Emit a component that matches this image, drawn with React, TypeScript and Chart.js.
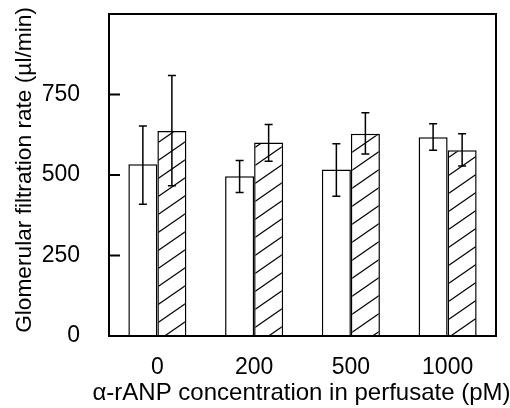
import React, { useEffect, useRef } from "react";
import { Chart, registerables } from "chart.js";

Chart.register(...registerables);

const categories = ["0", "200", "500", "1000"];
const controlValues = [533, 496, 517, 617];
const controlErrHigh = [652, 545, 597, 659];
const controlErrLow = [409, 446, 434, 577];
const treatedValues = [637, 601, 628, 577];
const treatedErrHigh = [809, 657, 693, 628];
const treatedErrLow = [467, 543, 565, 528];
const yTicks = [0, 250, 500, 750, 1000];
const yLabel = "Glomerular filtration rate (µl/min)";
const xLabel = "α-rANP concentration in perfusate (pM)";

const FONT = "'Liberation Sans', Arial, Helvetica, sans-serif";

function makeHatch(): CanvasPattern | string {
  const w = 26;
  const h = 18;
  const c = document.createElement("canvas");
  c.width = w;
  c.height = h;
  const g = c.getContext("2d");
  if (!g) return "#fff";
  g.fillStyle = "#fff";
  g.fillRect(0, 0, w, h);
  g.strokeStyle = "#000";
  g.lineWidth = 1.2;
  for (const k of [0, 1, 2]) {
    g.beginPath();
    g.moveTo(-2, k * h + (2 * h) / w);
    g.lineTo(w + 2, k * h - h - (2 * h) / w);
    g.stroke();
  }
  const p = g.createPattern(c, "repeat");
  return p || "#fff";
}

const errorFramePlugin = {
  id: "errorFrame",
  afterDatasetsDraw(chart: any) {
    const ctx = chart.ctx;
    const { left, right, top, bottom } = chart.chartArea;
    const ys = chart.scales.y;
    const errs = [
      [controlErrLow, controlErrHigh],
      [treatedErrLow, treatedErrHigh],
    ];
    ctx.save();
    ctx.strokeStyle = "#000";
    ctx.lineWidth = 1.5;
    chart.data.datasets.forEach((_ds: any, di: number) => {
      const meta = chart.getDatasetMeta(di);
      meta.data.forEach((el: any, i: number) => {
        const x = el.x;
        const yh = ys.getPixelForValue(errs[di][1][i]);
        const yl = ys.getPixelForValue(errs[di][0][i]);
        ctx.beginPath();
        ctx.moveTo(x, yh);
        ctx.lineTo(x, yl);
        ctx.moveTo(x - 4, yh);
        ctx.lineTo(x + 4, yh);
        ctx.moveTo(x - 4, yl);
        ctx.lineTo(x + 4, yl);
        ctx.stroke();
      });
    });
    ctx.lineWidth = 2;
    ctx.strokeRect(left, top, right - left, bottom - top);
    ctx.beginPath();
    yTicks.forEach((v) => {
      const py = ys.getPixelForValue(v);
      ctx.moveTo(left, py);
      ctx.lineTo(left + 11, py);
    });
    ctx.stroke();

    // axis titles (drawn without width compression)
    ctx.fillStyle = "#000";
    ctx.textAlign = "center";
    ctx.textBaseline = "middle";
    ctx.font = `24px ${FONT}`;
    ctx.fillText(xLabel, (left + right) / 2 - 1, 393.5);
    ctx.save();
    ctx.translate(25, (top + bottom) / 2 - 5);
    ctx.rotate(-Math.PI / 2);
    ctx.font = `22.7px ${FONT}`;
    ctx.fillText(yLabel, 0, 0);
    ctx.restore();
    ctx.restore();
  },
};

export default function App() {
  const ref = useRef<HTMLCanvasElement | null>(null);

  useEffect(() => {
    if (!ref.current) return;
    const hatch = makeHatch();
    const chart = new Chart(ref.current, {
      type: "bar",
      data: {
        labels: categories,
        datasets: [
          {
            label: "control",
            data: controlValues,
            backgroundColor: "#fff",
            borderColor: "#000",
            borderWidth: 1.5,
            categoryPercentage: 0.6,
            barPercentage: 1.0,
          },
          {
            label: "treated",
            data: treatedValues,
            backgroundColor: hatch as any,
            borderColor: "#000",
            borderWidth: 1.5,
            categoryPercentage: 0.6,
            barPercentage: 1.0,
          },
        ],
      },
      options: {
        animation: false,
        responsive: false,
        layout: { padding: { top: 14, right: 14, left: 0, bottom: 0 } },
        plugins: {
          legend: { display: false },
          tooltip: { enabled: false },
        },
        scales: {
          x: {
            grid: { display: false },
            border: { display: false },
            ticks: {
              color: "#000",
              font: { family: FONT, size: 23 },
              padding: 10,
              maxRotation: 0,
              autoSkip: false,
            },
            title: { display: false },
            afterFit(s: any) {
              s.height = 72;
              s.paddingLeft = 0;
              s.paddingRight = 0;
            },
          },
          y: {
            min: 0,
            max: 1000,
            afterBuildTicks(s: any) {
              s.ticks = yTicks.map((v) => ({ value: v }));
            },
            grid: { display: false },
            border: { display: false },
            ticks: {
              color: "#000",
              font: { family: FONT, size: 23 },
              padding: 21,
              callback: (v: any) => (Number(v) === 1000 ? "" : String(v)),
            },
            title: { display: false },
            afterFit(s: any) {
              s.width = 109;
              s.paddingTop = 0;
              s.paddingBottom = 0;
            },
          },
        },
      },
      plugins: [errorFramePlugin],
    });
    return () => chart.destroy();
  }, []);

  return (
    <div style={{ position: "absolute", left: 0, top: 0, width: 510, height: 408, background: "#fff" }}>
      <canvas ref={ref} width={510} height={408} style={{ display: "block" }} />
    </div>
  );
}
